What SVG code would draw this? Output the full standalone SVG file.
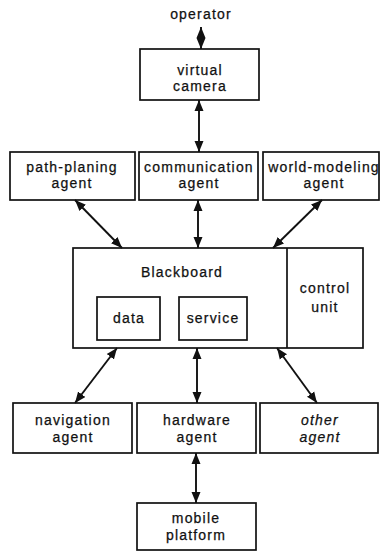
<svg xmlns="http://www.w3.org/2000/svg" width="380" height="551" viewBox="0 0 380 551">
  <style>
    .box { fill: #fff; stroke: #111; stroke-width: 1.7; }
    .lbl { font-family: "Liberation Sans", Arial, sans-serif; font-size: 14px; letter-spacing: 1.2px; fill: #111; stroke: #111; stroke-width: 0.25; text-anchor: middle; }
    .it { font-style: italic; }
    .link { stroke: #111; stroke-width: 1.9; fill: none; marker-start: url(#head); marker-end: url(#head); }
  </style>
  <defs>
    <marker id="head" viewBox="0 0 11 10" refX="11" refY="5" markerWidth="11" markerHeight="10" markerUnits="userSpaceOnUse" orient="auto-start-reverse">
      <path d="M0,0.5 L11,5 L0,9.5 Z" fill="#111"/>
    </marker>
  </defs>
  <rect width="380" height="551" fill="#fff"/>

  <g id="operator">
    <text class="lbl" x="201" y="19">operator</text>
  </g>

  <g id="virtual-camera">
    <rect class="box" x="140" y="49" width="119" height="51"/>
    <text class="lbl" x="200" y="75">virtual</text>
    <text class="lbl" x="200" y="91">camera</text>
  </g>

  <g id="path-planing-agent">
    <rect class="box" x="10" y="152" width="125" height="48"/>
    <text class="lbl" x="72" y="172">path-planing</text>
    <text class="lbl" x="72" y="188">agent</text>
  </g>

  <g id="communication-agent">
    <rect class="box" x="139" y="152" width="119" height="48"/>
    <text class="lbl" x="199" y="172">communication</text>
    <text class="lbl" x="199" y="188">agent</text>
  </g>

  <g id="world-modeling-agent">
    <rect class="box" x="263" y="152" width="116" height="48"/>
    <text class="lbl" x="324" y="172">world-modeling</text>
    <text class="lbl" x="324" y="188">agent</text>
  </g>

  <g id="blackboard">
    <rect class="box" x="73" y="248" width="290" height="100"/>
    <line x1="287" y1="248" x2="287" y2="348" stroke="#111" stroke-width="1.7"/>
    <text class="lbl" x="182" y="277">Blackboard</text>
  </g>

  <g id="data">
    <rect class="box" x="97" y="297" width="63" height="43"/>
    <text class="lbl" x="129" y="323">data</text>
  </g>

  <g id="service">
    <rect class="box" x="179" y="297" width="68" height="43"/>
    <text class="lbl" x="213" y="323">service</text>
  </g>

  <g id="control-unit">
    <text class="lbl" x="325" y="293">control</text>
    <text class="lbl" x="325" y="312">unit</text>
  </g>

  <g id="navigation-agent">
    <rect class="box" x="13" y="403" width="119" height="50"/>
    <text class="lbl" x="73" y="425">navigation</text>
    <text class="lbl" x="73" y="442">agent</text>
  </g>

  <g id="hardware-agent">
    <rect class="box" x="137" y="403" width="119" height="50"/>
    <text class="lbl" x="197" y="425">hardware</text>
    <text class="lbl" x="197" y="442">agent</text>
  </g>

  <g id="other-agent">
    <rect class="box" x="260" y="403" width="118" height="50"/>
    <text class="lbl it" x="320" y="425">other</text>
    <text class="lbl it" x="320" y="442">agent</text>
  </g>

  <g id="mobile-platform">
    <rect class="box" x="137" y="503" width="119" height="47"/>
    <text class="lbl" x="196" y="523">mobile</text>
    <text class="lbl" x="196" y="540">platform</text>
  </g>

  <g id="connectors">
    <line class="link" x1="201" y1="27" x2="201" y2="49"/>
    <line class="link" x1="199" y1="100" x2="199" y2="152"/>
    <line class="link" x1="75" y1="200" x2="122" y2="248"/>
    <line class="link" x1="198" y1="200" x2="198" y2="248"/>
    <line class="link" x1="322" y1="200" x2="273" y2="248"/>
    <line class="link" x1="117" y1="348" x2="75" y2="403"/>
    <line class="link" x1="197" y1="348" x2="197" y2="403"/>
    <line class="link" x1="277" y1="348" x2="317" y2="403"/>
    <line class="link" x1="196" y1="453" x2="196" y2="503"/>
  </g>
</svg>
